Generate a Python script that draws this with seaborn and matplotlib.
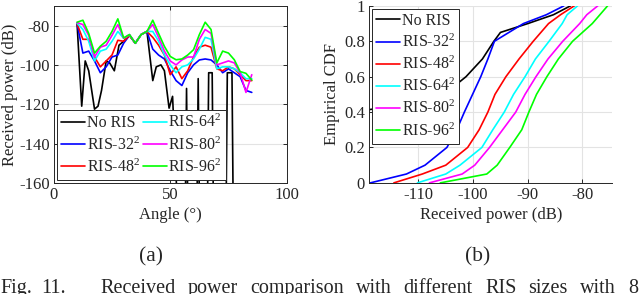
import matplotlib
matplotlib.use("Agg")
import matplotlib.pyplot as plt
import seaborn as sns
import pandas as pd

# (a) received power versus angle
angles = [10, 12.5, 15, 17.5, 20, 22.5, 25, 27.5, 30, 32.5, 35, 37.5, 40, 42.5, 45,
          47.5, 50, 52.5, 55, 57.5, 60, 62.5, 65, 67.5, 70, 72.5, 75, 77.5, 80, 82.5, 85]
ris32 = [-79, -94, -93, -98, -104, -101, -96, -95, -89, -85, -89, -84.6, -83, -92, -95,
         -97, -103, -108, -110.5, -104, -100, -97.5, -97, -97.5, -100, -104, -102, -104, -106, -113, -114]
ris48 = [-79, -87, -87, -96, -101, -98, -95, -87.5, -88, -85, -89, -84.6, -83, -86, -90,
         -95, -105, -101, -107, -103, -96, -91, -90, -91, -102, -103, -101, -102, -105, -108, -108]
ris64 = [-78.8, -82, -88, -98, -93, -92, -88, -83, -86.5, -84.6, -89, -84.6, -83, -83, -88,
         -95, -100, -104, -101, -100, -97, -92, -86, -87, -102, -101, -101, -102, -104, -107, -107]
ris80 = [-78.5, -79.5, -85, -96, -91, -90, -85, -79.5, -86.5, -84.6, -89, -84.6, -83, -79.5, -86,
         -93, -98, -100, -97.5, -96, -96, -87, -82, -84, -100, -99, -98, -99, -104, -114, -105]
ris96 = [-78.3, -77.3, -84, -94, -90.5, -88, -83, -76.6, -86.3, -84.6, -89, -84.6, -83, -77.3, -84,
         -90.6, -95.7, -97.4, -97, -95, -92.3, -84.6, -78.3, -82, -99, -93, -94, -97.4, -103.4, -104.3, -107.7]

# no RIS has its own (denser) angle grid because of the spikes
angles_noris = [10, 12, 13.5, 15, 17.5, 19, 20.5, 22.5, 24, 26, 28, 30, 32.5, 35, 37.5, 40,
                42.5, 44, 46, 47.5, 49.5, 51, 53, 56.5, 57, 57.5, 61.5, 62, 62.5, 66, 66.5,
                68, 68.5, 74, 74.5, 76.5, 77, 80, 85]
noris = [-79, -121, -98, -103, -122.5, -121, -113, -98, -99, -103, -90, -88, -85, -89, -84.6, -83,
         -108, -101, -100, -103, -122, -116, -170, -170, -112, -170, -170, -107, -170, -170, -104,
         -104, -170, -170, -104, -104, -170, -170, -170]

# (b) empirical CDF, power read at given probability levels
cdf_p = [0, 0.05, 0.1, 0.2, 0.3, 0.4, 0.5, 0.6, 0.7, 0.8, 0.9, 0.95, 1.0]
cdf32 = [-118.8, -112.2, -108.8, -104.8, -103, -101.6, -100.1, -98.6, -97.3, -96.1, -90.8, -86.6, -83.4]
cdf48 = [-114.5, -109.3, -105, -101, -98.9, -97.3, -96, -94, -91.6, -89, -86.2, -84, -81.5]
cdf64 = [-110.2, -105, -102.4, -98.4, -96.4, -94.3, -92.6, -90.5, -88.6, -86.1, -83.7, -82.8, -80.9]
cdf80 = [-108, -102, -99.7, -97, -94.6, -92.2, -90.5, -88.5, -86.3, -83.6, -80.5, -79.2, -77.2]
cdf96 = [-106, -97.5, -95.6, -93.3, -91.1, -89.8, -88.4, -86.5, -84.4, -81.8, -78.2, -76.8, -75.4]
cdf_p_noris = [0.39, 0.45, 0.5, 0.55, 0.6, 0.7, 0.8, 0.85, 0.9, 0.95, 1.0]
cdf_noris = [-125, -110, -106.5, -103.3, -101.3, -98.3, -96.2, -95, -90, -85.3, -82.2]

labels = ["No RIS", "RIS-32$^\\mathrm{2}$", "RIS-48$^\\mathrm{2}$",
          "RIS-64$^\\mathrm{2}$", "RIS-80$^\\mathrm{2}$", "RIS-96$^\\mathrm{2}$"]
colors = ["#000000", "#0000ff", "#ff0000", "#00ffff", "#ff00ff", "#00ff00"]
caption_words = ["Received", "power", "comparison", "with", "different", "RIS", "sizes", "with", "8"]

sns.set_theme(style="whitegrid")
plt.rcParams["font.family"] = ["Liberation Serif", "DejaVu Serif"]
plt.rcParams["mathtext.fontset"] = "custom"
plt.rcParams["mathtext.rm"] = "Liberation Serif"
plt.rcParams["mathtext.it"] = "Liberation Serif:italic"
plt.rcParams["axes.unicode_minus"] = False
plt.rcParams["font.size"] = 12

fig = plt.figure(figsize=(6.4, 2.94), dpi=100)
ax1 = fig.add_axes([0.084, 0.378, 0.364, 0.602])
ax2 = fig.add_axes([0.577, 0.378, 0.380, 0.602])

sns.lineplot(x=angles_noris, y=noris, color=colors[0], lw=1.2, label=labels[0],
             estimator=None, sort=False, ax=ax1)
for ys, c, lab in zip([ris32, ris48, ris64, ris80, ris96], colors[1:], labels[1:]):
    sns.lineplot(x=angles, y=ys, color=c, lw=1.2, label=lab, estimator=None, sort=False, ax=ax1)

sns.lineplot(x=cdf_noris, y=cdf_p_noris, color=colors[0], lw=1.2, label=labels[0],
             estimator=None, sort=False, ax=ax2)
for xs, c, lab in zip([cdf32, cdf48, cdf64, cdf80, cdf96], colors[1:], labels[1:]):
    sns.lineplot(x=xs, y=cdf_p, color=c, lw=1.2, label=lab, estimator=None, sort=False, ax=ax2)

ax1.set_xlim(0, 100)
ax1.set_ylim(-160, -70)
ax1.set_xticks([0, 50, 100])
ax1.set_yticks([-160, -140, -120, -100, -80])
ax1.set_xlabel("Angle (°)", fontsize=12, labelpad=3)
ax1.set_ylabel("Received power (dB)", fontsize=12, labelpad=1)

ax2.set_xlim(-119, -74.5)
ax2.set_ylim(0, 1)
ax2.set_xticks([-110, -100, -90, -80])
ax2.set_yticks([0, 0.2, 0.4, 0.6, 0.8, 1])
ax2.set_yticklabels(["0", "0.2", "0.4", "0.6", "0.8", "1"])
ax2.set_xlabel("Received power (dB)", fontsize=12, labelpad=3)
ax2.set_ylabel("Empirical CDF", fontsize=12, labelpad=3)

for ax in (ax1, ax2):
    ax.grid(True, color="#e3e3e3", lw=0.8)
    ax.tick_params(direction="in", length=3, width=0.7, colors="#262626", labelsize=12, pad=3)
    for s in ax.spines.values():
        s.set_color("#262626")
        s.set_linewidth(0.7)
ax1.tick_params(top=True, right=True, bottom=True, left=True)
ax2.tick_params(bottom=True, left=True)
ax2.spines["top"].set_visible(False)
ax2.spines["right"].set_visible(False)

leg1 = ax1.legend(loc="lower left", ncol=2, fontsize=11.5, frameon=True, fancybox=False,
                  handlelength=1.5, handletextpad=0.1, columnspacing=0.2, labelspacing=0.3,
                  borderpad=0.25, borderaxespad=0.2)
leg1.get_frame().set_edgecolor("#262626")
leg1.get_frame().set_linewidth(0.7)
leg1.get_frame().set_alpha(1)

leg2 = ax2.legend(loc="upper left", ncol=1, fontsize=11.5, frameon=True, fancybox=False,
                  handlelength=1.5, handletextpad=0.1, labelspacing=0.3,
                  borderpad=0.25, borderaxespad=0.2)
leg2.get_frame().set_edgecolor("#262626")
leg2.get_frame().set_linewidth(0.7)
leg2.get_frame().set_alpha(1)

fig.text(151 / 640, 1 - 257 / 294, "(a)", ha="center", va="center", fontsize=15.5)
fig.text(478 / 640, 1 - 257 / 294, "(b)", ha="center", va="center", fontsize=15.5)

# justified caption line (cut off by the bottom edge, as in the source)
cap_y = 1 - 279 / 294
fig.text(0.0, cap_y, "Fig.", ha="left", va="top", fontsize=14.5)
fig.text(41 / 640, cap_y, "11.", ha="left", va="top", fontsize=14.5)
renderer = fig.canvas.get_renderer()
word_texts = [fig.text(0, cap_y, w, ha="left", va="top", fontsize=14.5) for w in caption_words]
widths = [t.get_window_extent(renderer).width for t in word_texts]
x0, x1 = 100.0, 638.0
gap = (x1 - x0 - sum(widths)) / (len(widths) - 1)
x = x0
for t, w in zip(word_texts, widths):
    t.set_x(x / 640)
    x += w + gap

fig.savefig("out.png", dpi=100)
